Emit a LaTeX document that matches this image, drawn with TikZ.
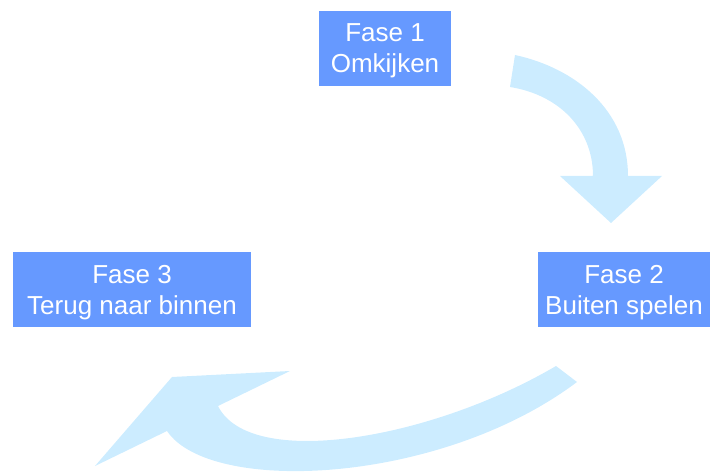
\documentclass[tikz,border=0pt]{standalone}
\usepackage{fontspec}
\setmainfont{Liberation Sans}
\definecolor{boxblue}{HTML}{6699FF}
\definecolor{arrowblue}{HTML}{CCECFF}
\begin{document}
\begin{tikzpicture}[x=1pt,y=-1pt,
  phase/.style={draw=none,fill=boxblue,text=white,inner sep=0pt,text depth=0pt,
    minimum height=75pt,align=center,font=\fontsize{26}{31}\selectfont},
  blockarrow/.style={fill=arrowblue,draw=none}]
\useasboundingbox (0,0) rectangle (710,473);
\node[phase,minimum width=132pt] (f1) at (385,48.5) {Fase 1\\Omkijken};
\node[phase,minimum width=172pt] (f2) at (624,289.5) {Fase 2\\Buiten spelen};
\node[phase,minimum width=238pt] (f3) at (132,289.5) {Fase 3\\Terug naar binnen};
% top arrow (Fase 1 -> Fase 2)
\fill[blockarrow] (515,55) .. controls (575,68) and (628,110) .. (628,176)
  -- (662,176) -- (611,223) -- (560,176) -- (593,176)
  .. controls (593,130) and (560,95) .. (510,87) -- cycle;
% bottom arrow (Fase 2 -> Fase 3)
\fill[blockarrow] (556,366) .. controls (430,440) and (250,470) .. (218,406)
  -- (290,371) -- (172,377) -- (95,466) -- (167,431)
  .. controls (210,495) and (440,485) .. (577,382) -- cycle;
\end{tikzpicture}
\end{document}
